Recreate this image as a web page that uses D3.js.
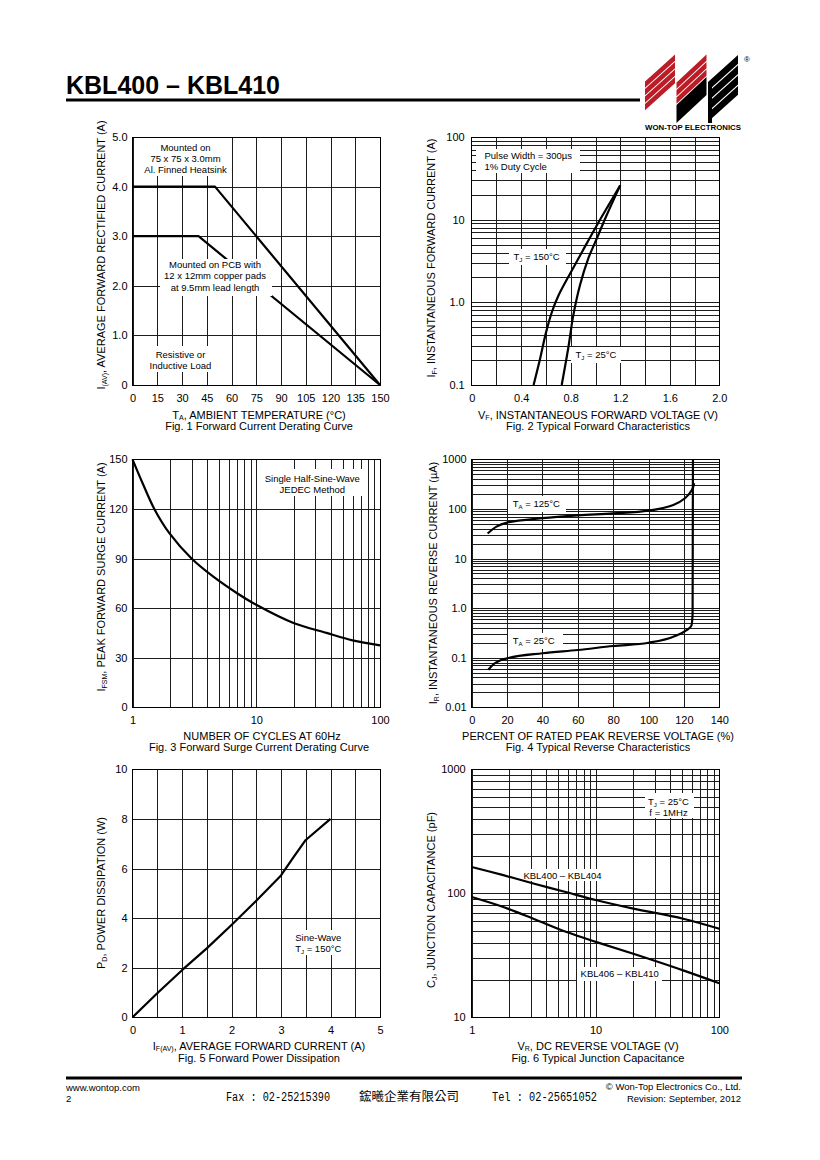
<!DOCTYPE html>
<html><head><meta charset="utf-8">
<script src="https://cdn.jsdelivr.net/npm/d3@7"></script>
<style>
body{margin:0;background:#fff}
svg{display:block;font-family:"Liberation Sans",Arial,sans-serif}
</style></head><body>
<svg id="page" width="820" height="1160"></svg>
<script>
// ---------------- DATA ----------------
// Fig.1 Forward current derating
const fig1TempHeatsink = [0, 50, 150];
const fig1CurHeatsink  = [4, 4, 0];
const fig1TempPcb      = [0, 40, 150];
const fig1CurPcb       = [3, 3, 0];
const fig1XTicks  = [0, 15, 30, 45, 60, 75, 90, 105, 120, 135, 150];
const fig1XLabels = ["0","15","30","45","60","75","90","105","120","135","150"];
const fig1YTicks  = [0, 1, 2, 3, 4, 5];
const fig1YLabels = ["0","1.0","2.0","3.0","4.0","5.0"];

// Fig.2 Typical forward characteristics
const fig2V150 = [0.5, 0.55, 0.6, 0.65, 0.7, 0.8, 0.9, 1.0, 1.1, 1.2];
const fig2I150 = [0.1, 0.2, 0.43, 0.78, 1.2, 2.3, 4.3, 8.0, 14.5, 26];
const fig2V25  = [0.727, 0.78, 0.821, 0.875, 0.942, 1.01, 1.09, 1.2];
const fig2I25  = [0.1, 0.28, 0.7, 1.62, 3.4, 5.9, 11.3, 26];
const fig2XTicks  = [0, 0.4, 0.8, 1.2, 1.6, 2.0];
const fig2XLabels = ["0","0.4","0.8","1.2","1.6","2.0"];
const fig2XGrid   = [0.2, 0.4, 0.6, 0.8, 1.0, 1.2, 1.4, 1.6, 1.8];
const fig2YTicks  = [0.1, 1, 10, 100];
const fig2YLabels = ["0.1","1.0","10","100"];

// Fig.3 Forward surge current derating
const fig3Cycles = [1, 1.2, 1.5, 2, 3, 4.5, 7, 10, 20, 37, 60, 100];
const fig3Ifsm   = [150, 136, 120, 105, 90, 79, 69, 62, 51, 45, 40.5, 37.5];
const fig3XTicks  = [1, 10, 100];
const fig3XLabels = ["1","10","100"];
const fig3YTicks  = [0, 30, 60, 90, 120, 150];
const fig3YLabels = ["0","30","60","90","120","150"];

// Fig.4 Typical reverse characteristics
const fig4Pct125 = [9, 14, 20, 40, 60, 80, 100, 114, 120.6, 124.5, 125.8];
const fig4Ir125  = [32, 44, 53, 65, 74, 81, 92, 120, 164, 240, 330];
const fig4Pct25  = [9.4, 12, 16, 20, 40, 60, 80, 100, 114, 121.5, 124.2, 124.9, 125.1];
const fig4Ir25   = [0.057, 0.072, 0.088, 0.097, 0.123, 0.143, 0.172, 0.2, 0.265, 0.36, 0.44, 0.75, 1000];
const fig4XTicks  = [0, 20, 40, 60, 80, 100, 120, 140];
const fig4XLabels = ["0","20","40","60","80","100","120","140"];
const fig4YTicks  = [0.01, 0.1, 1, 10, 100, 1000];
const fig4YLabels = ["0.01","0.1","1.0","10","100","1000"];

// Fig.5 Forward power dissipation
const fig5If = [0, 0.5, 1, 1.5, 2, 2.5, 3, 3.25, 3.5, 4];
const fig5Pd = [0, 0.97, 1.9, 2.78, 3.72, 4.7, 5.72, 6.45, 7.15, 8.0];
const fig5XTicks  = [0, 1, 2, 3, 4, 5];
const fig5XLabels = ["0","1","2","3","4","5"];
const fig5XGrid   = [0.5, 1, 1.5, 2, 2.5, 3, 3.5, 4, 4.5];
const fig5YTicks  = [0, 2, 4, 6, 8, 10];
const fig5YLabels = ["0","2","4","6","8","10"];

// Fig.6 Typical junction capacitance
const fig6Vr     = [1, 1.8, 3.15, 5.85, 10.2, 20.2, 51, 100];
const fig6Cj400  = [163, 140, 120, 102, 87.8, 75.2, 62.4, 51.8];
const fig6Cj406  = [93.3, 77.5, 62.4, 48.7, 40.4, 32.5, 23.9, 18.8];
const fig6XTicks  = [1, 10, 100];
const fig6XLabels = ["1","10","100"];
const fig6YTicks  = [10, 100, 1000];
const fig6YLabels = ["10","100","1000"];

// ---------------- DRAWING ----------------
const svg = d3.select("#page");
svg.append("rect").attr("width",820).attr("height",1160).attr("fill","#fff");
const SMOOTH = d3.curveCatmullRom.alpha(0.5);

function rich(sel, parts, size, subDy){
  let shift = 0;
  parts.forEach(p=>{
    const ts = sel.append("tspan");
    if (typeof p === "string"){
      if (shift){ ts.attr("dy", -shift); shift = 0; }
      ts.text(p);
    } else {
      const d = subDy || 2;
      ts.attr("dy", d).attr("font-size", size*0.64).text(p.sub);
      shift = d;
    }
  });
}
function txt(g, x, y, parts, size, anchor, transform, subDy){
  const t = g.append("text").attr("x",x).attr("y",y).attr("font-size",size)
    .attr("text-anchor",anchor||"middle").attr("fill","#000");
  if (transform) t.attr("transform", transform);
  rich(t, parts, size, subDy);
  return t;
}

const FONT = "Liberation Sans, Arial, sans-serif";
const LX = [132.5, 380], RX = [471.7, 719.3];
const ROWS = [[137, 385], [459.3, 707.3], [769.3, 1017.3]];

function panel(c){
  const g = svg.append("g");
  const [x0,x1] = c.xr, [y0,y1] = c.yr;
  const x = (c.xLog ? d3.scaleLog() : d3.scaleLinear()).domain(c.xDomain).range([x0,x1]);
  const y = (c.yLog ? d3.scaleLog() : d3.scaleLinear()).domain(c.yDomain).range([y1,y0]);
  const w = x1-x0, h = y1-y0;
  const xGrid = c.xGrid || (c.xLog ? x.ticks() : c.xTicks);
  const yGrid = c.yGrid || (c.yLog ? y.ticks() : c.yTicks);

  const gx = g.append("g").attr("transform",`translate(0,${y1})`)
    .call(d3.axisBottom(x).tickValues(xGrid).tickSize(-h).tickFormat(""));
  const gy = g.append("g").attr("transform",`translate(${x0},0)`)
    .call(d3.axisLeft(y).tickValues(yGrid).tickSize(-w).tickFormat(""));
  [gx,gy].forEach(a=>{
    a.select(".domain").remove();
    a.selectAll("line").attr("stroke","#1c1c1c").attr("stroke-width",1).attr("shape-rendering","crispEdges");
  });

  const drawNotes = (above)=>{
    (c.notes||[]).filter(n=>!!n.above===above).forEach(n=>{
      g.append("rect").attr("x",n.box[0]).attr("y",n.box[1]).attr("width",n.box[2]).attr("height",n.box[3]).attr("fill","#fff");
      n.lines.forEach(l=> txt(g, l.x, l.y, l.parts, 9.5, l.anchor||"middle", null, 2));
    });
  };
  drawNotes(false);

  g.append("rect").attr("x",x0).attr("y",y0).attr("width",w).attr("height",h)
    .attr("fill","none").attr("stroke","#000").attr("stroke-width",1).attr("shape-rendering","crispEdges");

  c.series.forEach(s=>{
    const line = d3.line().x(d=>x(d[0])).y(d=>y(d[1])).curve(s.curve || SMOOTH);
    g.append("path").datum(d3.zip(s.xs, s.ys)).attr("d", line)
      .attr("fill","none").attr("stroke","#000").attr("stroke-width",2.2)
      .attr("stroke-linejoin","round").attr("stroke-linecap","butt");
  });
  drawNotes(true);

  const ax = g.append("g").attr("transform",`translate(0,${y1})`)
    .call(d3.axisBottom(x).tickValues(c.xTicks).tickFormat((d,i)=>c.xLabels[i]).tickSize(0).tickPadding(8.7));
  const ay = g.append("g").attr("transform",`translate(${x0},0)`)
    .call(d3.axisLeft(y).tickValues(c.yTicks).tickFormat((d,i)=>c.yLabels[i]).tickSize(0).tickPadding(c.yPad||5));
  [ax,ay].forEach(a=>{
    a.select(".domain").remove();
    a.attr("font-family",FONT).attr("font-size",11);
    a.selectAll("text").attr("fill","#000");
  });

  txt(g, c.xTitlePos[0], c.xTitlePos[1], c.xTitle, 11, "middle", null, 1.6);
  txt(g, c.xTitlePos[0]+(c.capDx||0), c.capY, [c.caption], 11, "middle");
  txt(g, 0, 0, c.yTitle, 11, "middle", `translate(${c.yTitlePos[0]},${c.yTitlePos[1]}) rotate(-90)`, 2);
}

// Fig 1
panel({
  xr: LX, yr: ROWS[0], xDomain:[0,150], yDomain:[0,5],
  xTicks: fig1XTicks, xLabels: fig1XLabels, yTicks: fig1YTicks, yLabels: fig1YLabels,
  series: [
    {xs: fig1TempHeatsink, ys: fig1CurHeatsink, curve: d3.curveLinear},
    {xs: fig1TempPcb, ys: fig1CurPcb, curve: d3.curveLinear}
  ],
  notes: [
    {box:[141,138,87,38], lines:[
      {x:185.5,y:151,parts:["Mounted on"]},
      {x:185.5,y:162,parts:["75 x 75 x 3.0mm"]},
      {x:185.5,y:173,parts:["Al. Finned Heatsink"]}]},
    {box:[160,259,112,37], above:true, lines:[
      {x:215,y:267.5,parts:["Mounted on PCB with"]},
      {x:215,y:279,parts:["12 x 12mm copper pads"]},
      {x:215,y:290.5,parts:["at 9.5mm lead length"]}]},
    {box:[146,346,68,26], lines:[
      {x:180.5,y:358,parts:["Resistive or"]},
      {x:180.5,y:369,parts:["Inductive Load"]}]}
  ],
  xTitle: ["T",{sub:"A"},", AMBIENT TEMPERATURE (°C)"], xTitlePos:[259,418.5],
  caption: "Fig. 1 Forward Current Derating Curve", capY: 430,
  yTitle: ["I",{sub:"(AV)"},", AVERAGE FORWARD RECTIFIED CURRENT (A)"], yTitlePos:[105,255]
});

// Fig 2
panel({
  xr: RX, yr: ROWS[0], xDomain:[0,2], yDomain:[0.1,100], yLog:true,
  xTicks: fig2XTicks, xLabels: fig2XLabels, xGrid: fig2XGrid, yTicks: fig2YTicks, yLabels: fig2YLabels, yPad:7,
  series: [
    {xs: fig2V150, ys: fig2I150},
    {xs: fig2V25, ys: fig2I25}
  ],
  notes: [
    {box:[476,149,104,24], lines:[
      {x:484.5,y:159.3,parts:["Pulse Width = 300µs"],anchor:"start"},
      {x:484.5,y:169.5,parts:["1% Duty Cycle"],anchor:"start"}]},
    {box:[509,249,57,16], lines:[{x:513.5,y:259.5,parts:["T",{sub:"J"}," = 150°C"],anchor:"start"}]},
    {box:[571,347,50,16], lines:[{x:575.5,y:358,parts:["T",{sub:"J"}," = 25°C"],anchor:"start"}]}
  ],
  xTitle: ["V",{sub:"F"},", INSTANTANEOUS FORWARD VOLTAGE (V)"], xTitlePos:[598,418.5],
  caption: "Fig. 2 Typical Forward Characteristics", capY: 430,
  yTitle: ["I",{sub:"F"},", INSTANTANEOUS FORWARD CURRENT (A)"], yTitlePos:[435,258]
});

// Fig 3
panel({
  xr: LX, yr: ROWS[1], xDomain:[1,100], xLog:true, yDomain:[0,150],
  xTicks: fig3XTicks, xLabels: fig3XLabels, yTicks: fig3YTicks, yLabels: fig3YLabels,
  series: [{xs: fig3Cycles, ys: fig3Ifsm}],
  notes: [
    {box:[257,469,105,27], lines:[
      {x:312.3,y:482,parts:["Single Half-Sine-Wave"]},
      {x:312.3,y:492.7,parts:["JEDEC Method"]}]}
  ],
  xTitle: ["NUMBER OF CYCLES AT 60Hz"], xTitlePos:[262,740], capDx:-3,
  caption: "Fig. 3 Forward Surge Current Derating Curve", capY: 751,
  yTitle: ["I",{sub:"FSM"},", PEAK FORWARD SURGE CURRENT (A)"], yTitlePos:[105,577]
});

// Fig 4
panel({
  xr: RX, yr: ROWS[1], xDomain:[0,140], yDomain:[0.01,1000], yLog:true,
  xTicks: fig4XTicks, xLabels: fig4XLabels, yTicks: fig4YTicks, yLabels: fig4YLabels, yPad:5,
  series: [
    {xs: fig4Pct125, ys: fig4Ir125},
    {xs: fig4Pct25, ys: fig4Ir25, curve: d3.curveMonotoneX}
  ],
  notes: [
    {box:[508,496,58,16], lines:[{x:512.7,y:507,parts:["T",{sub:"A"}," = 125°C"],anchor:"start"}]},
    {box:[508,633,55,16], lines:[{x:512.7,y:643.7,parts:["T",{sub:"A"}," = 25°C"],anchor:"start"}]}
  ],
  xTitle: ["PERCENT OF RATED PEAK REVERSE VOLTAGE (%)"], xTitlePos:[598,740],
  caption: "Fig. 4 Typical Reverse Characteristics", capY: 751,
  yTitle: ["I",{sub:"R"},", INSTANTANEOUS REVERSE CURRENT (µA)"], yTitlePos:[436.5,583]
});

// Fig 5
panel({
  xr: LX, yr: ROWS[2], xDomain:[0,5], yDomain:[0,10],
  xTicks: fig5XTicks, xLabels: fig5XLabels, xGrid: fig5XGrid, yTicks: fig5YTicks, yLabels: fig5YLabels,
  series: [{xs: fig5If, ys: fig5Pd, curve: d3.curveLinear}],
  notes: [
    {box:[292,930,54,25], lines:[
      {x:318.3,y:940.5,parts:["Sine-Wave"]},
      {x:318.3,y:951.5,parts:["T",{sub:"J"}," = 150°C"]}]}
  ],
  xTitle: ["I",{sub:"F(AV)"},", AVERAGE FORWARD CURRENT (A)"], xTitlePos:[259,1049.5],
  caption: "Fig. 5 Forward Power Dissipation", capY: 1062,
  yTitle: ["P",{sub:"D"},", POWER DISSIPATION (W)"], yTitlePos:[105,893]
});

// Fig 6
panel({
  xr: RX, yr: ROWS[2], xDomain:[1,100], xLog:true, yDomain:[10,1000], yLog:true,
  xTicks: fig6XTicks, xLabels: fig6XLabels, yTicks: fig6YTicks, yLabels: fig6YLabels, yPad:6,
  series: [
    {xs: fig6Vr, ys: fig6Cj400},
    {xs: fig6Vr, ys: fig6Cj406}
  ],
  notes: [
    {box:[645,793,49,25], lines:[
      {x:668.5,y:804.5,parts:["T",{sub:"J"}," = 25°C"]},
      {x:668.5,y:815.5,parts:["f = 1MHz"]}]},
    {box:[520,869,86,12], lines:[{x:562.5,y:878.7,parts:["KBL400 – KBL404"]}]},
    {box:[577,967,85,14], lines:[{x:619.7,y:977,parts:["KBL406 – KBL410"]}]}
  ],
  xTitle: ["V",{sub:"R"},", DC REVERSE VOLTAGE (V)"], xTitlePos:[598,1049.5],
  caption: "Fig. 6 Typical Junction Capacitance", capY: 1062,
  yTitle: ["C",{sub:"J"},", JUNCTION CAPACITANCE (pF)"], yTitlePos:[435,900]
});

// ---------------- HEADER ----------------
const hdr = svg.append("g");
hdr.append("text").attr("x",66).attr("y",94).attr("font-size",25).attr("font-weight","bold")
  .attr("font-family",FONT).text("KBL400 – KBL410");
hdr.append("rect").attr("x",66).attr("y",98.5).attr("width",574).attr("height",3).attr("fill","#000");

const RED = "#bb1c26";
function stripe(xl, xr, yl, yr, th, fill){
  hdr.append("path").attr("d",`M${xl},${yl}L${xr},${yr}L${xr},${yr+th}L${xl},${yl+th}Z`).attr("fill",fill);
}
for (let i=0;i<4;i++) stripe(645, 675, 81.5+i*7.5, 54.5+i*7.5, 6.3, RED);
for (let i=0;i<3;i++) stripe(676.5, 706.5, 82.5+i*7.5, 54.5+i*7.5, 6.3, RED);
stripe(676.5, 706.5, 105, 77, 18, "#000");
for (let i=0;i<4;i++) stripe(708, 738, 82+i*10.3, 55+i*10.3, 8.8, "#000");
hdr.append("rect").attr("x",708).attr("y",82).attr("width",4).attr("height",41).attr("fill","#000");
hdr.append("text").attr("x",744).attr("y",62).attr("font-size",8).attr("font-family",FONT).text("®");
hdr.append("text").attr("x",645).attr("y",130).attr("font-size",7.2).attr("font-weight","bold")
  .attr("font-family",FONT).attr("textLength",96).attr("lengthAdjust","spacingAndGlyphs").text("WON-TOP ELECTRONICS");

// ---------------- FOOTER ----------------
const ftr = svg.append("g").attr("font-family",FONT);
ftr.append("rect").attr("x",66).attr("y",1076.5).attr("width",676).attr("height",3).attr("fill","#000");
ftr.append("text").attr("x",66).attr("y",1091).attr("font-size",9.5).text("www.wontop.com");
ftr.append("text").attr("x",66).attr("y",1102).attr("font-size",9.5).text("2");
ftr.append("text").attr("x",226).attr("y",1101).attr("font-size",12).attr("font-family","Liberation Mono, monospace")
  .attr("textLength",104).attr("lengthAdjust","spacingAndGlyphs").text("Fax : 02-25215390");
ftr.append("text").attr("x",359).attr("y",1101).attr("font-size",12).attr("font-family","Noto Sans CJK TC, sans-serif")
  .attr("textLength",100).attr("lengthAdjust","spacingAndGlyphs").text("鋐曦企業有限公司");
ftr.append("text").attr("x",492).attr("y",1101).attr("font-size",12).attr("font-family","Liberation Mono, monospace")
  .attr("textLength",105).attr("lengthAdjust","spacingAndGlyphs").text("Tel : 02-25651052");
ftr.append("text").attr("x",741).attr("y",1090).attr("font-size",9.5).attr("text-anchor","end").text("© Won-Top Electronics Co., Ltd.");
ftr.append("text").attr("x",741).attr("y",1101.5).attr("font-size",9.5).attr("text-anchor","end").text("Revision: September, 2012");
</script>
</body></html>
